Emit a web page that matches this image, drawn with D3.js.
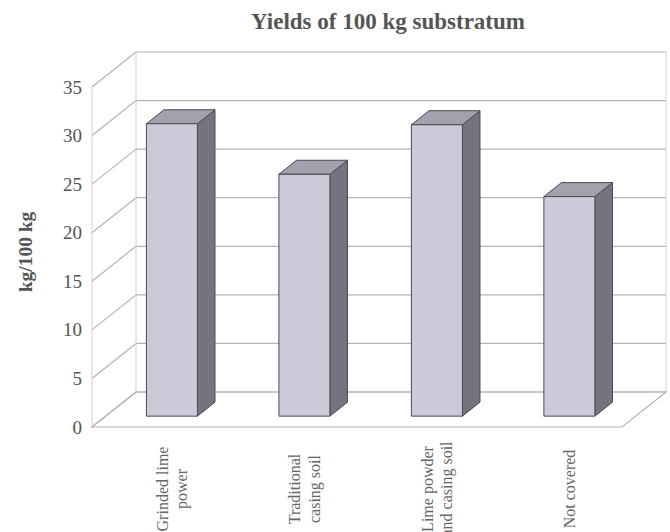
<!DOCTYPE html>
<html>
<head>
<meta charset="utf-8">
<script src="https://cdn.jsdelivr.net/npm/d3@7"></script>
<style>
  html, body { margin: 0; padding: 0; background: #fff; }
  svg { display: block; }
  text { font-family: "Liberation Serif", "DejaVu Serif", serif; }
</style>
</head>
<body>
<svg id="chart" width="670" height="532"></svg>
<script>
// ---- data ----
const categories = [
  ["Grinded lime", "power"],
  ["Traditional", "casing soil"],
  ["Lime powder", "and casing soil"],
  ["Not covered"]
];
const yields = [30.1, 24.9, 30.0, 22.6];
const yTicks = [0, 5, 10, 15, 20, 25, 30, 35];
const titleText = "Yields of 100 kg substratum";
const yAxisTitle = "kg/100 kg";

// ---- layout ----
const svg = d3.select("#chart");
const W = 670, H = 532;
const depthX = 44, depthY = 35;          // back-wall offset
const floorLeft = 92, floorRight = 622;  // front plane x-extent
const barZ0 = 0.31, barZ1 = 0.71;        // bar depth span (0=front, 1=back)

const keys = categories.map(c => c.join(" "));
const x = d3.scaleBand().domain(keys).range([floorLeft, floorRight])
  .paddingInner(0.615).paddingOuter(0.3075);
const y = d3.scaleLinear().domain([0, 35]).range([427, 87]);

const P = (px, v, z) => [px + depthX * z, y(v) - depthY * z];
const poly = pts => "M" + pts.map(p => p.join(",")).join("L") + "Z";

const gridColor = "#b4b4b4";
const g = svg.append("g");

// back wall gridlines
g.selectAll("line.grid").data(yTicks).join("line")
  .attr("class", "grid")
  .attr("x1", P(floorLeft, 0, 1)[0]).attr("x2", P(floorRight, 0, 1)[0])
  .attr("y1", d => P(0, d, 1)[1]).attr("y2", d => P(0, d, 1)[1])
  .attr("stroke", gridColor).attr("stroke-width", 1.2);

// side wall diagonals
g.selectAll("line.diag").data(yTicks).join("line")
  .attr("class", "diag")
  .attr("x1", d => P(floorLeft, d, 0)[0]).attr("y1", d => P(floorLeft, d, 0)[1])
  .attr("x2", d => P(floorLeft, d, 1)[0]).attr("y2", d => P(floorLeft, d, 1)[1])
  .attr("stroke", gridColor).attr("stroke-width", 1.2);

// wall verticals
const vLines = [
  [P(floorLeft, 0, 1), P(floorLeft, 35, 1)],
  [P(floorRight, 0, 1), P(floorRight, 35, 1)],
  [P(floorLeft, 0, 0), P(floorLeft, 35, 0)]
];
g.selectAll("line.wall").data(vLines).join("line")
  .attr("class", "wall")
  .attr("x1", d => d[0][0]).attr("y1", d => d[0][1])
  .attr("x2", d => d[1][0]).attr("y2", d => d[1][1])
  .attr("stroke", "#d0d0d0").attr("stroke-width", 1);

// floor
g.append("path")
  .attr("d", poly([P(floorLeft, 0, 0), P(floorRight, 0, 0), P(floorRight, 0, 1), P(floorLeft, 0, 1)]))
  .attr("fill", "none").attr("stroke", gridColor).attr("stroke-width", 1.2);

// bars
const data = keys.map((k, i) => ({ k, v: yields[i] }));
const bars = g.selectAll("g.bar").data(data).join("g").attr("class", "bar");
const bw = x.bandwidth();
bars.append("path") // side
  .attr("d", d => { const x1 = x(d.k) + bw;
    return poly([P(x1, 0, barZ0), P(x1, 0, barZ1), P(x1, d.v, barZ1), P(x1, d.v, barZ0)]); })
  .attr("fill", "#74747f").attr("stroke", "#4a4a52").attr("stroke-width", 1);
bars.append("path") // top
  .attr("d", d => { const x0 = x(d.k), x1 = x0 + bw;
    return poly([P(x0, d.v, barZ0), P(x1, d.v, barZ0), P(x1, d.v, barZ1), P(x0, d.v, barZ1)]); })
  .attr("fill", "#a2a2ae").attr("stroke", "#4a4a52").attr("stroke-width", 1);
bars.append("path") // front
  .attr("d", d => { const x0 = x(d.k), x1 = x0 + bw;
    return poly([P(x0, 0, barZ0), P(x1, 0, barZ0), P(x1, d.v, barZ0), P(x0, d.v, barZ0)]); })
  .attr("fill", "#cacad9").attr("stroke", "#4a4a52").attr("stroke-width", 1);

// y axis labels
const yAxis = d3.axisLeft(y).tickValues(yTicks).tickSize(0).tickPadding(10);
const ya = svg.append("g").attr("transform", `translate(${floorLeft},0)`).call(yAxis);
ya.select(".domain").remove();
ya.selectAll("text")
  .attr("font-family", "Liberation Serif").attr("font-size", 19).attr("fill", "#555");

// category labels
const lab = svg.append("g");
data.forEach((d, i) => {
  const lines = categories[i];
  const cx = x(d.k) + bw / 2 + depthX * barZ0;
  const lh = 19.5;
  lines.forEach((t, j) => {
    const lx = cx + (j - (lines.length - 1) / 2) * lh;
    lab.append("text")
      .attr("transform", `translate(${lx},489) rotate(-90)`)
      .attr("text-anchor", "middle").attr("dy", "0.35em")
      .attr("font-size", 16).attr("fill", "#666")
      .text(t);
  });
});

// title
svg.append("text").attr("x", 388).attr("y", 29)
  .attr("text-anchor", "middle").attr("font-weight", "bold")
  .attr("font-size", 23).attr("fill", "#555").text(titleText);

// y axis title
svg.append("text")
  .attr("transform", "translate(25,252) rotate(-90)")
  .attr("text-anchor", "middle").attr("dy", "0.35em")
  .attr("font-weight", "bold").attr("font-size", 19.5).attr("fill", "#555")
  .text(yAxisTitle);
</script>
</body>
</html>
